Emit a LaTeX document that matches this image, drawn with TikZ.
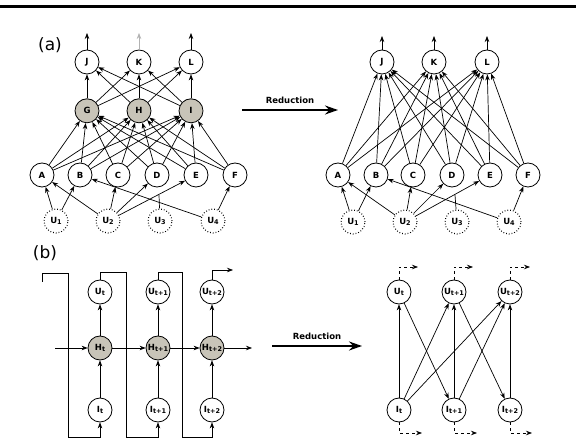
\documentclass[tikz,border=0pt]{standalone}
\usepackage{fontspec}
\setmainfont{DejaVu Sans}
\usetikzlibrary{arrows.meta, positioning}
\definecolor{hidgray}{RGB}{200,196,184}
\newcommand{\lowidx}[1]{\raisebox{-1.5pt}{\fontsize{6.5}{6.5}\selectfont #1}}

\begin{document}
\begin{tikzpicture}[
  x=1pt, y=-1pt,
  unit/.style={circle, draw, line width=0.8pt, minimum size=24pt, inner sep=0pt, font=\fontsize{8.5}{8.5}\selectfont\bfseries},
  hid/.style={unit, fill=hidgray},
  ext/.style={unit, dotted, line width=1.1pt},
  edge/.style={-{Stealth[length=6pt,width=4.5pt]}, line width=0.7pt},
  tail/.style={edge, dashed},
  reduce/.style={-{Stealth[length=13pt,width=9pt]}, line width=1.8pt},
  tag/.style={font=\fontsize{17}{17}\selectfont},
  redlabel/.style={font=\fontsize{8.5}{8.5}\selectfont\bfseries},
]
  \useasboundingbox (0,0) rectangle (576,438);
  \draw[line width=3pt] (0,7) -- (576,7);

  % (a) full network
  \node[tag] (taga) at (50,45) {(a)};
  \node[unit] (fJ) at (87,62) {J};
  \node[unit] (fK) at (139,62) {K};
  \node[unit] (fL) at (191,62) {L};
  \node[hid, below=24pt of fJ] (fG) {G};
  \node[hid, below=24pt of fK] (fH) {H};
  \node[hid, below=24pt of fL] (fI) {I};
  \node[unit] (fA) at (42,175) {A};
  \node[unit] (fB) at (80,175) {B};
  \node[unit] (fC) at (118,175) {C};
  \node[unit] (fD) at (157,175) {D};
  \node[unit] (fE) at (196,175) {E};
  \node[unit] (fF) at (235,175) {F};
  \node[ext] (fU1) at (56,221) {U\lowidx{1}};
  \node[ext] (fU2) at (108,221) {U\lowidx{2}};
  \node[ext] (fU3) at (160,221) {U\lowidx{3}};
  \node[ext] (fU4) at (213,221) {U\lowidx{4}};
  \coordinate (foJ) at (87,33);
  \coordinate (foK) at (139,33);
  \coordinate (foL) at (191,33);
  \coordinate (fstub) at (159,195);

  \foreach \s in {A,B,C,D,E,F}
    \foreach \t in {G,H,I}
      \draw[edge] (f\s) -- (f\t);
  \foreach \s in {G,H,I}
    \foreach \t in {J,K,L}
      \draw[edge] (f\s) -- (f\t);
  \draw[edge] (fJ) -- (foJ);
  \draw[edge, gray!60] (fK) -- (foK);
  \draw[edge] (fL) -- (foL);
  \foreach \s/\t in {U1/A, U1/B, U2/A, U2/C, U2/D, U2/E, U4/B, U4/F}
    \draw[edge] (f\s) -- (f\t);
  \draw[line width=0.7pt] (fU3) -- (fstub);

  \coordinate (ra0) at (242,110);
  \coordinate (ra1) at (338,110);
  \draw[reduce] (ra0) -- (ra1) node[midway, above=2pt, redlabel] {Reduction};

  % (a) reduced network
  \node[unit] (qJ) at (382,62) {J};
  \node[unit] (qK) at (434,62) {K};
  \node[unit] (qL) at (487,62) {L};
  \node[unit] (qA) at (338,175) {A};
  \node[unit] (qB) at (376,175) {B};
  \node[unit] (qC) at (413,175) {C};
  \node[unit] (qD) at (452,175) {D};
  \node[unit] (qE) at (490,175) {E};
  \node[unit] (qF) at (528,175) {F};
  \node[ext] (qU1) at (353,222) {U\lowidx{1}};
  \node[ext] (qU2) at (405,222) {U\lowidx{2}};
  \node[ext] (qU3) at (457,222) {U\lowidx{3}};
  \node[ext] (qU4) at (509,222) {U\lowidx{4}};
  \coordinate (qoJ) at (382,36);
  \coordinate (qoK) at (434,36);
  \coordinate (qoL) at (487,36);
  \coordinate (qstub) at (455,195);

  \foreach \s in {A,B,C,D,E,F}
    \foreach \t in {J,K,L}
      \draw[edge] (q\s) -- (q\t);
  \draw[edge] (qJ) -- (qoJ);
  \draw[edge] (qK) -- (qoK);
  \draw[edge] (qL) -- (qoL);
  \foreach \s/\t in {U1/A, U1/B, U2/A, U2/C, U2/D, U2/E, U4/B, U4/F}
    \draw[edge] (q\s) -- (q\t);
  \draw[line width=0.7pt] (qU3) -- (qstub);

  % (b) recurrent network
  \node[tag] (tagb) at (45,253) {(b)};
  \node[unit] (sU0) at (100,292) {U\lowidx{t}};
  \node[unit] (sU1) at (158,292) {U\lowidx{t+1}};
  \node[unit] (sU2) at (212,292) {U\lowidx{t+2}};
  \node[hid] (sH0) at (100,348) {H\lowidx{t}};
  \node[hid] (sH1) at (158,348) {H\lowidx{t+1}};
  \node[hid] (sH2) at (212,348) {H\lowidx{t+2}};
  \node[unit] (sI0) at (100,410) {I\lowidx{t}};
  \node[unit] (sI1) at (158,410) {I\lowidx{t+1}};
  \node[unit] (sI2) at (212,410) {I\lowidx{t+2}};
  \coordinate (sfeed) at (42,282);
  \coordinate (sin) at (55,348);
  \coordinate (send) at (252,348);
  \coordinate (sout) at (233,270);

  \foreach \k in {0,1,2} {
    \draw[edge] (sI\k) -- (sH\k);
    \draw[edge] (sH\k) -- (sU\k);
  }
  \draw[edge] (sin) -- (sH0);
  \draw[edge] (sH0) -- (sH1);
  \draw[edge] (sH1) -- (sH2);
  \draw[edge] (sH2) -- (send);
  \draw[edge] (sfeed) |- (68,273) -- (68,437) -| (sI0);
  \draw[edge] (sU0) |- (126,272) -- (126,437) -| (sI1);
  \draw[edge] (sU1) |- (182,272) -- (182,437) -| (sI2);
  \draw[edge] (sU2) |- (sout);

  \coordinate (rb0) at (272,346);
  \coordinate (rb1) at (362,346);
  \draw[reduce] (rb0) -- (rb1) node[midway, above=2pt, redlabel] {Reduction};

  % (b) reduced network
  \node[unit] (rU0) at (399,292) {U\lowidx{t}};
  \node[unit] (rU1) at (454,292) {U\lowidx{t+1}};
  \node[unit] (rU2) at (510,292) {U\lowidx{t+2}};
  \node[unit] (rI0) at (399,410) {I\lowidx{t}};
  \node[unit] (rI1) at (454,410) {I\lowidx{t+1}};
  \node[unit] (rI2) at (510,410) {I\lowidx{t+2}};

  \foreach \s/\t in {I0/U0, I0/U1, I0/U2, U0/I1, I1/U1, I1/U2, U1/I2, I2/U2}
    \draw[edge] (r\s) -- (r\t);
  \foreach \k/\x in {0/418, 1/473, 2/530} {
    \coordinate (rUo\k) at (\x,267);
    \draw[tail] (rU\k) |- (rUo\k);
  }
  \foreach \k/\x in {0/422, 1/477, 2/532} {
    \coordinate (rIo\k) at (\x,433);
    \draw[tail] (rI\k) |- (rIo\k);
  }
\end{tikzpicture}
\end{document}
